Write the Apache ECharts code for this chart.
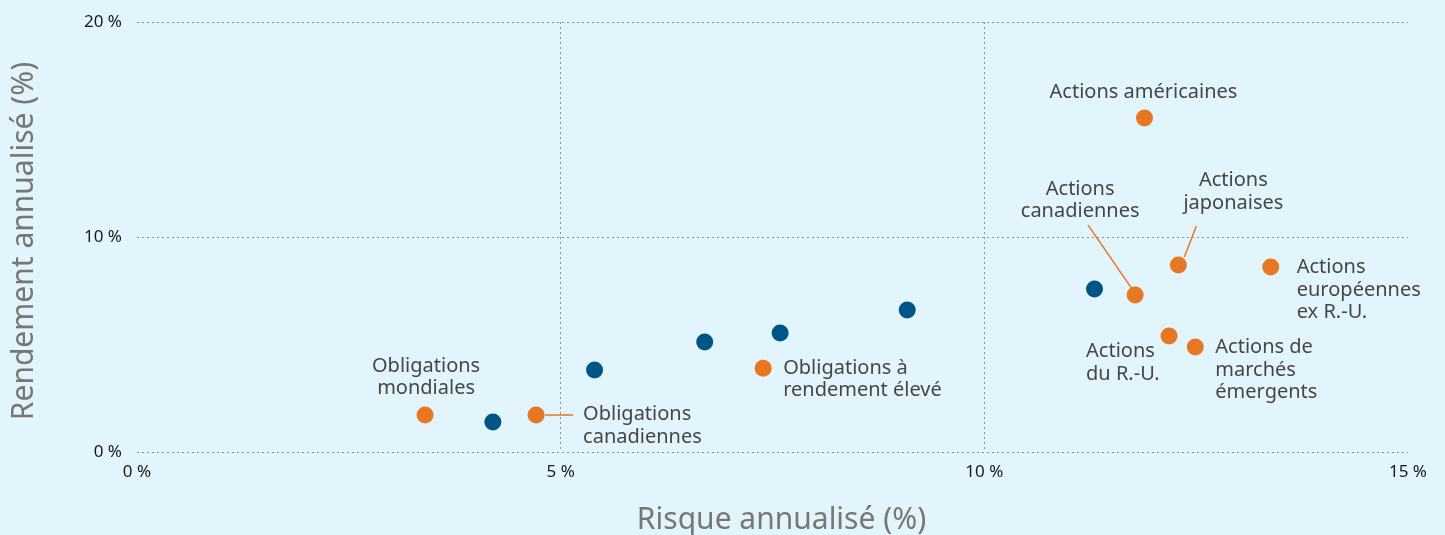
<!DOCTYPE html>
<html lang="fr">
<head>
<meta charset="utf-8">
<script src="https://cdn.jsdelivr.net/npm/echarts@6/dist/echarts.min.js"></script>
<style>
  html, body { margin: 0; padding: 0; background: #e2f4fc; }
  #chart { width: 1445px; height: 535px; }
</style>
</head>
<body>
<div id="chart"></div>
<script>
// Classes d'actifs (orange) : risque et rendement annualisés, en %
const assetNames = [
  'Obligations\nmondiales',
  'Obligations\ncanadiennes',
  'Obligations à\nrendement élevé',
  'Actions américaines',
  'Actions\ncanadiennes',
  'Actions\njaponaises',
  'Actions\neuropéennes\nex R.-U.',
  'Actions\ndu R.-U.',
  'Actions de\nmarchés\némergents'
];
const assetRisk   = [3.40, 4.71, 7.39, 11.89, 11.78, 12.29, 13.38, 12.18, 12.49];
const assetReturn = [1.72, 1.72, 3.90, 15.53, 7.30, 8.70, 8.60, 5.40, 4.88];

// Portefeuilles (bleu)
const portfolioRisk   = [4.20, 5.40, 6.70, 7.59, 9.09, 11.30];
const portfolioReturn = [1.40, 3.81, 5.12, 5.53, 6.60, 7.58];

// Graduations des axes
const xTicks = [0, 5, 10, 15];
const yTicks = [0, 10, 20];

const ORANGE = '#e87722';
const BLUE = '#005587';
const FONT = '"Noto Sans", "Open Sans", sans-serif';
const DOT = 17;
const R = DOT / 2;

// Label placement: offset of the text anchor from the dot centre (px)
const labelLayout = [
  { dx: 1,   dy: -15, align: 'center', va: 'bottom' },
  { dx: 47,  dy: 11,  align: 'left',   va: 'middle' },
  { dx: 20,  dy: 11,  align: 'left',   va: 'middle' },
  { dx: -1,  dy: -26, align: 'center', va: 'middle' },
  { dx: -55, dy: -95, align: 'center', va: 'middle' },
  { dx: 55,  dy: -73, align: 'center', va: 'middle' },
  { dx: 26,  dy: 23,  align: 'left',   va: 'middle' },
  { dx: -83, dy: 27,  align: 'left',   va: 'middle' },
  { dx: 20,  dy: 23,  align: 'left',   va: 'middle' }
];

// Leader lines: index of the asset and pixel offsets of both ends from the dot centre
const leaders = [
  { i: 1, from: [9, 0],    to: [37, 0] },
  { i: 4, from: [-3, -6],  to: [-47, -70] },
  { i: 5, from: [6, -8],   to: [18, -39] }
];

const chart = echarts.init(document.getElementById('chart'), null, { renderer: 'canvas' });

const assetData = assetRisk.map((x, i) => ({
  value: [x, assetReturn[i]],
  name: assetNames[i],
  label: {
    show: true,
    formatter: assetNames[i],
    position: [R + labelLayout[i].dx, R + labelLayout[i].dy],
    align: labelLayout[i].align,
    verticalAlign: labelLayout[i].va
  }
}));

const portfolioData = portfolioRisk.map((x, i) => [x, portfolioReturn[i]]);

const gridLine = { show: true, lineStyle: { color: '#8f8f8f', type: [2, 3], width: 1 } };

chart.setOption({
  backgroundColor: '#e2f4fc',
  animation: false,
  textStyle: { fontFamily: FONT },
  grid: { left: 137, right: 37, top: 22, bottom: 83, containLabel: false, outerBoundsMode: 'none' },
  xAxis: {
    type: 'value',
    min: xTicks[0],
    max: xTicks[xTicks.length - 1],
    interval: xTicks[1] - xTicks[0],
    name: 'Risque annualisé (%)',
    nameLocation: 'middle',
    nameGap: 53,
    nameTextStyle: { color: '#777777', fontSize: 30, fontFamily: FONT, padding: [0, 0, 0, 18] },
    axisLine: { show: false },
    axisTick: { show: false },
    axisLabel: { color: '#1a1a1a', fontSize: 17, margin: 12, formatter: '{value} %', fontFamily: FONT },
    splitLine: Object.assign({ showMinLine: false, showMaxLine: false }, gridLine)
  },
  yAxis: {
    type: 'value',
    min: yTicks[0],
    max: yTicks[yTicks.length - 1],
    interval: yTicks[1] - yTicks[0],
    name: 'Rendement annualisé (%)',
    nameLocation: 'middle',
    nameGap: 98,
    nameTextStyle: { color: '#777777', fontSize: 30, fontFamily: FONT, padding: [0, 8, 0, 0] },
    axisLine: { show: false },
    axisTick: { show: false },
    axisLabel: { color: '#1a1a1a', fontSize: 17, margin: 15, formatter: '{value} %', fontFamily: FONT },
    splitLine: gridLine
  },
  series: [
    {
      name: 'Portefeuilles',
      type: 'scatter',
      symbolSize: DOT,
      itemStyle: { color: BLUE, opacity: 1 },
      data: portfolioData,
      z: 3
    },
    {
      name: 'Classes d’actifs',
      type: 'scatter',
      symbolSize: DOT,
      itemStyle: { color: ORANGE, opacity: 1 },
      label: {
        color: '#464646',
        fontSize: 20,
        lineHeight: 22.5,
        fontFamily: FONT
      },
      data: assetData,
      z: 4
    }
  ]
});

function drawLeaders() {
  const graphics = leaders.map(l => {
    const p = chart.convertToPixel({ seriesIndex: 1 }, [assetRisk[l.i], assetReturn[l.i]]);
    return {
      type: 'line',
      silent: true,
      z: 2,
      shape: { x1: p[0] + l.from[0], y1: p[1] + l.from[1], x2: p[0] + l.to[0], y2: p[1] + l.to[1] },
      style: { stroke: ORANGE, lineWidth: 1.5 }
    };
  });
  chart.setOption({ graphic: graphics });
}
drawLeaders();
</script>
</body>
</html>
